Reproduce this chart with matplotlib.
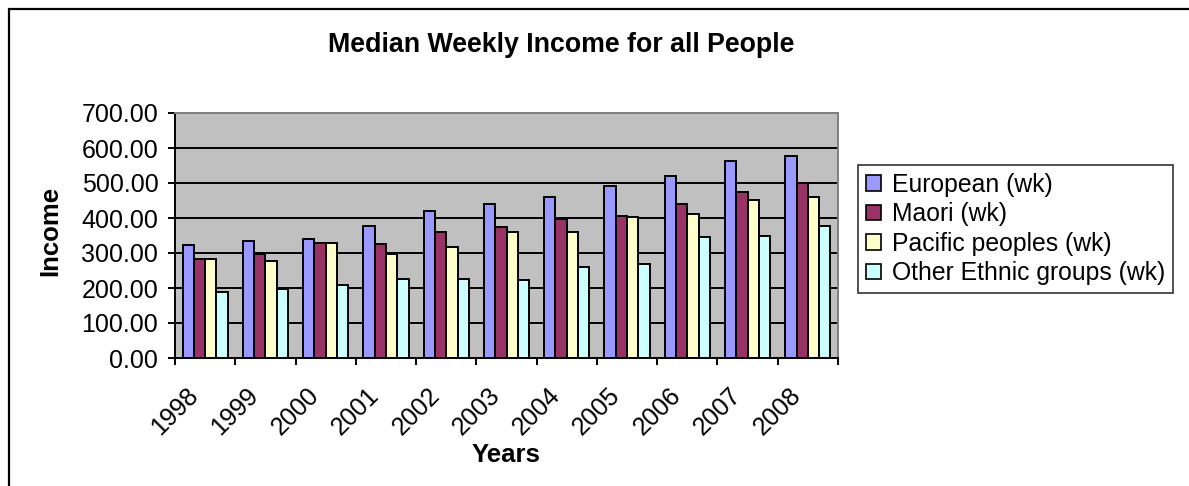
import numpy as np
import matplotlib
matplotlib.use('Agg')
import matplotlib.pyplot as plt
import matplotlib.transforms as mtransforms
from matplotlib.patches import Rectangle

plt.rcParams['font.family'] = ['Liberation Sans', 'DejaVu Sans']

# data
years = ['1998', '1999', '2000', '2001', '2002', '2003',
         '2004', '2005', '2006', '2007', '2008']
european = [322, 335, 340, 378, 420, 440, 459, 492, 521, 564, 578]
maori = [283, 298, 330, 326, 359, 373, 397, 407, 440, 473, 500]
pacific = [283, 278, 330, 298, 317, 359, 359, 402, 411, 450, 459]
other = [189, 198, 208, 227, 227, 222, 260, 270, 346, 350, 378]

series = ['European (wk)', 'Maori (wk)', 'Pacific peoples (wk)', 'Other Ethnic groups (wk)']
colors = ['#9999FF', '#993366', '#FFFFCC', '#CCFFFF']

W, H = 1189, 486
fig = plt.figure(figsize=(W / 100, H / 100), dpi=100)
ax = fig.add_axes([175 / W, 1 - 358 / H, (838 - 175) / W, (358 - 113) / H])
ax.set_facecolor('#C0C0C0')

x = np.arange(len(years))
bw = 0.1875
for k, (vals, c, name) in enumerate(zip([european, maori, pacific, other], colors, series)):
    ax.bar(x + (k - 1.5) * bw, vals, bw, color=c, edgecolor='black', linewidth=1.4,
           label=name, zorder=2)

ax.set_xlim(-0.5, len(years) - 0.5)
ax.set_ylim(0, 700)
ax.set_yticks(np.arange(0, 701, 100))
ax.set_yticklabels(['%.2f' % v for v in np.arange(0, 701, 100)])
ax.set_axisbelow(True)
ax.yaxis.grid(True, color='black', linewidth=1.4)

# tick marks sit on category boundaries, labels next to them
bounds = np.arange(len(years) + 1) - 0.5
ax.set_xticks(bounds)
ax.set_xticklabels(years + [''], rotation=45, ha='center', va='top')
offset = mtransforms.ScaledTranslation(-4 / 100, 0, fig.dpi_scale_trans)
for lab in ax.get_xticklabels():
    lab.set_transform(lab.get_transform() + offset)

ax.tick_params(axis='both', direction='out', length=5, width=1.4, labelsize=18, colors='black')
ax.tick_params(axis='x', pad=13)
ax.tick_params(axis='y', pad=7)

for s in ['left', 'bottom']:
    ax.spines[s].set_color('black')
    ax.spines[s].set_linewidth(1.4)
for s in ['top', 'right']:
    ax.spines[s].set_color('#808080')
    ax.spines[s].set_linewidth(1.4)

fig.text(561 / W, 1 - 45 / H, 'Median Weekly Income for all People', ha='center', va='center',
         fontsize=19.3, fontweight='bold')
fig.text(506 / W, 1 - 455 / H, 'Years', ha='center', va='center', fontsize=18.5, fontweight='bold')
fig.text(50 / W, 1 - 231 / H, 'Income', ha='center', va='center', fontsize=18.5,
         fontweight='bold', rotation=90)

leg = fig.legend(loc='upper left', bbox_to_anchor=(858 / W, 1 - 165 / H), borderaxespad=0,
                 fontsize=17.8, frameon=True, fancybox=False, handlelength=0.6, handleheight=0.6,
                 handletextpad=0.45, labelspacing=0.22, borderpad=0.32)
leg.get_frame().set_edgecolor('black')
leg.get_frame().set_linewidth(1.2)
for p in leg.get_patches():
    p.set_linewidth(1.2)

# outer chart border (cut off at right and bottom)
fig.patches.append(Rectangle((9 / W, -0.1), 1.2, 1.1 - 9 / H, transform=fig.transFigure,
                             fill=False, edgecolor='black', linewidth=1.6))

fig.savefig('out.png', dpi=100)
